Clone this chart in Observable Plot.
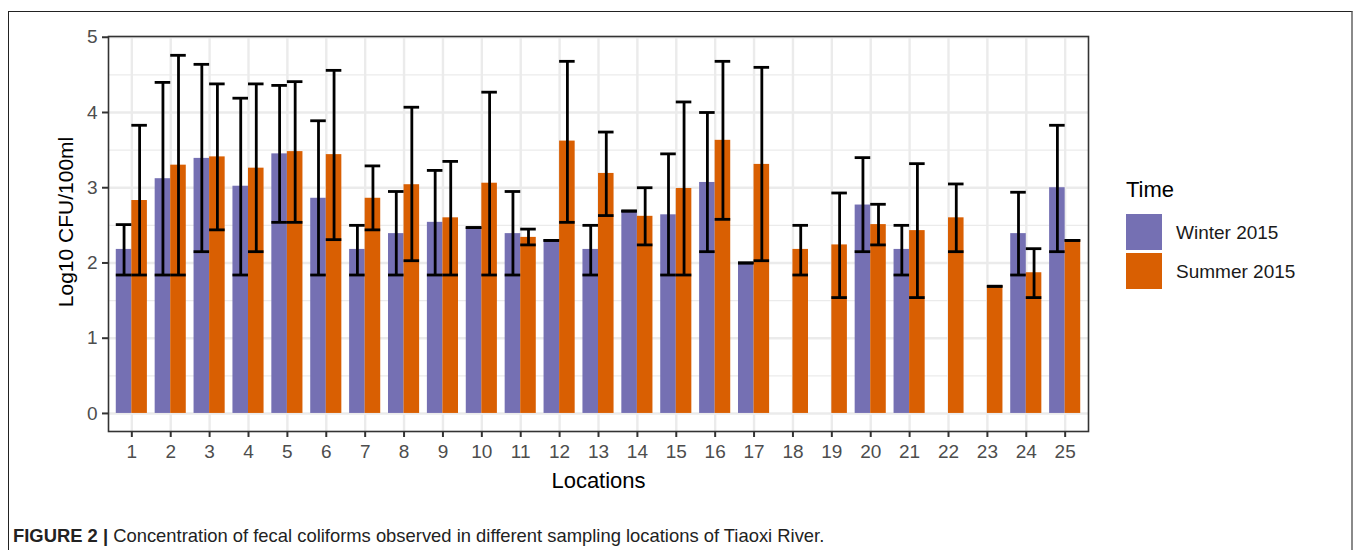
<!DOCTYPE html>
<html>
<head>
<meta charset="utf-8">
<script src="https://cdn.jsdelivr.net/npm/d3@7"></script>
<script src="https://cdn.jsdelivr.net/npm/@observablehq/plot@0.6"></script>
<style>
  html, body { margin: 0; padding: 0; background: #fff; overflow: hidden; }
  body { width: 1357px; height: 550px; position: relative; font-family: "Liberation Sans", Arial, sans-serif; }
  #frame { position: absolute; left: 8px; top: 11px; width: 1345px; height: 600px;
           border-left: 1px solid #222; border-top: 1px solid #222; border-right: 2px solid #8a8a8a; box-sizing: border-box; }
  #chart { position: absolute; left: 0; top: 0; }
  #legend { position: absolute; left: 1100px; top: 160px; }
  #caption { position: absolute; left: 13px; top: 527px; font-family: "Liberation Sans Narrow", "Liberation Sans", Arial, sans-serif;
             font-size: 18.4px; line-height: 18px; color: #222; white-space: nowrap; }
  #caption b { font-weight: bold; }
</style>
</head>
<body>
<div id="frame"></div>
<div id="chart"></div>
<div id="legend"></div>
<div id="caption"><b>FIGURE 2 |</b> Concentration of fecal coliforms observed in different sampling locations of Tiaoxi River.</div>
<script>
// ---- data ----
const locations = d3.range(1, 26);
const seriesNames = ["Winter 2015", "Summer 2015"];
const seriesColors = ["#7570B3", "#D95F02"];

const winter     = [2.18, 3.12, 3.39, 3.02, 3.45, 2.86, 2.18, 2.39, 2.54, 2.47, 2.39, 2.30, 2.18, 2.69, 2.64, 3.07, 2.00, null, null, 2.77, 2.18, null, null, 2.39, 3.00];
const winterLow  = [1.84, 1.84, 2.15, 1.84, 2.54, 1.84, 1.84, 1.84, 1.84, 2.47, 1.84, 2.30, 1.84, 2.69, 1.84, 2.15, 2.00, null, null, 2.15, 1.84, null, null, 1.84, 2.15];
const winterHigh = [2.51, 4.40, 4.64, 4.19, 4.36, 3.89, 2.50, 2.95, 3.23, 2.47, 2.95, 2.30, 2.50, 2.69, 3.45, 4.00, 2.00, null, null, 3.40, 2.50, null, null, 2.94, 3.83];

const summer     = [2.83, 3.30, 3.41, 3.26, 3.48, 3.44, 2.86, 3.04, 2.60, 3.06, 2.34, 3.62, 3.19, 2.62, 2.99, 3.63, 3.31, 2.18, 2.24, 2.51, 2.43, 2.60, 1.69, 1.87, 2.30];
const summerLow  = [1.84, 1.84, 2.44, 2.15, 2.54, 2.31, 2.44, 2.03, 1.84, 1.84, 2.24, 2.54, 2.63, 2.24, 1.84, 2.58, 2.03, 1.84, 1.54, 2.24, 1.54, 2.15, 1.69, 1.54, 2.30];
const summerHigh = [3.83, 4.76, 4.38, 4.38, 4.41, 4.56, 3.29, 4.07, 3.35, 4.27, 2.45, 4.68, 3.74, 3.00, 4.14, 4.68, 4.60, 2.50, 2.93, 2.78, 3.32, 3.05, 1.69, 2.19, 2.30];

const yTicks = [0, 1, 2, 3, 4, 5];
const yMinorTicks = [0.5, 1.5, 2.5, 3.5, 4.5];

const xTitle = "Locations";
const yTitle = "Log10 CFU/100ml";
const legendTitle = "Time";

// ---- tables built from the arrays ----
const makeRows = (vals, lo, hi) => locations.map((loc, i) => ({loc, value: vals[i], low: lo[i], high: hi[i]}));
const winterRows = makeRows(winter, winterLow, winterHigh);
const summerRows = makeRows(summer, summerLow, summerHigh);

// ---- layout ----
const W = 1357, H = 500;
const mL = 108, mR = 269, mT = 36, mB = 69;
const pInner = 0.2, pOuter = 0.2;
const step = (W - mL - mR) / (locations.length - pInner + 2 * pOuter);
const half = step * (1 - pInner) / 2;   // width of one dodged bar
const grid = "#EBEBEB";
const ebw = 2.8;

const chart = Plot.plot({
  width: W, height: H,
  marginLeft: mL, marginRight: mR, marginTop: mT, marginBottom: mB,
  style: {fontFamily: "'Liberation Sans', Arial, sans-serif", fontSize: "18px", background: "transparent", color: "#000"},
  x: {type: "band", domain: locations, paddingInner: pInner, paddingOuter: pOuter, round: false},
  y: {domain: [-0.24, 5.01]},
  marks: [
    Plot.gridY(yMinorTicks, {stroke: grid, strokeOpacity: 1, strokeWidth: 1.3}),
    Plot.gridY(yTicks, {stroke: grid, strokeOpacity: 1, strokeWidth: 2.4}),
    Plot.gridX({stroke: grid, strokeOpacity: 1, strokeWidth: 2.4}),
    Plot.barY(winterRows, {x: "loc", y: "value", fill: seriesColors[0], insetRight: half}),
    Plot.barY(summerRows, {x: "loc", y: "value", fill: seriesColors[1], insetLeft: half}),
    Plot.ruleX(winterRows, {x: "loc", y1: "low", y2: "high", dx: -half / 2, stroke: "#000", strokeWidth: ebw}),
    Plot.ruleX(summerRows, {x: "loc", y1: "low", y2: "high", dx: half / 2, stroke: "#000", strokeWidth: ebw}),
    Plot.tickY(winterRows, {x: "loc", y: "high", insetRight: half, stroke: "#000", strokeWidth: ebw}),
    Plot.tickY(winterRows, {x: "loc", y: "low", insetRight: half, stroke: "#000", strokeWidth: ebw}),
    Plot.tickY(summerRows, {x: "loc", y: "high", insetLeft: half, stroke: "#000", strokeWidth: ebw}),
    Plot.tickY(summerRows, {x: "loc", y: "low", insetLeft: half, stroke: "#000", strokeWidth: ebw}),
    Plot.frame({stroke: "#333", strokeWidth: 1.6}),
    Plot.axisX({tickSize: 6, tickPadding: 7, fontSize: 19, stroke: "#333", strokeWidth: 2, fill: "#4D4D4D", label: null, tickFormat: d => String(d)}),
    Plot.axisY(yTicks, {tickSize: 6, tickPadding: 5, fontSize: 19, stroke: "#333", strokeWidth: 2, fill: "#4D4D4D", label: null, tickFormat: d => String(d)}),
    Plot.text([xTitle], {frameAnchor: "bottom", textAnchor: "middle", lineAnchor: "middle", text: d => d, dy: 49, fontSize: 22, fill: "#000"}),
    Plot.text([yTitle], {frameAnchor: "left", textAnchor: "middle", lineAnchor: "middle", text: d => d, rotate: -90, dx: -42, dy: -12, fontSize: 21, fill: "#000"})
  ]
});
document.getElementById("chart").appendChild(chart);

// ---- legend ----
const lg = d3.select("#legend").append("svg").attr("width", 250).attr("height", 140)
  .style("font-family", "'Liberation Sans', Arial, sans-serif");
lg.append("text").attr("x", 26).attr("y", 37).attr("font-size", 22).attr("fill", "#000").text(legendTitle);
seriesNames.forEach((name, i) => {
  lg.append("rect").attr("x", 26).attr("y", 54 + i * 39).attr("width", 36).attr("height", 36).attr("fill", seriesColors[i]);
  lg.append("text").attr("x", 76).attr("y", 79 + i * 39).attr("font-size", 19).attr("fill", "#1a1a1a").text(name);
});
</script>
</body>
</html>
